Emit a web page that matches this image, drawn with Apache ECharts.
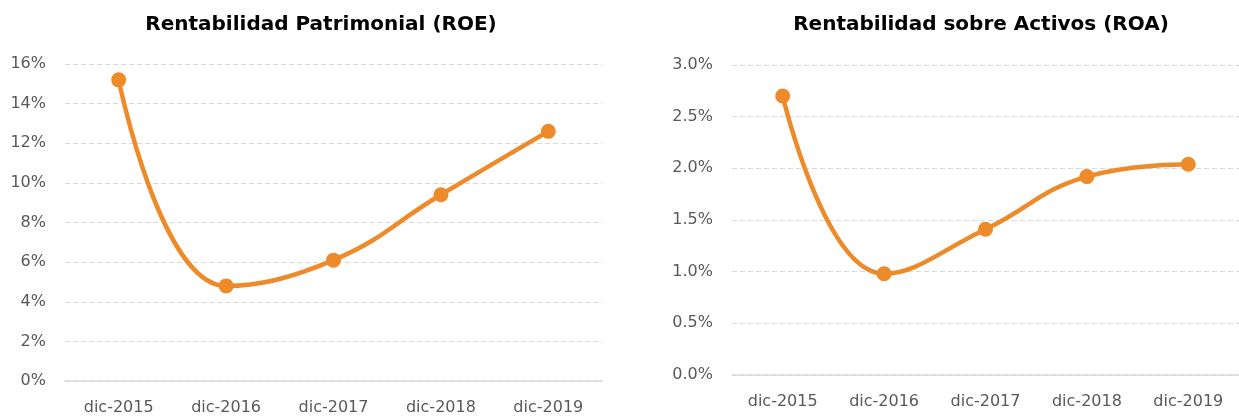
<!DOCTYPE html>
<html>
<head>
<meta charset="utf-8">
<script src="https://cdn.jsdelivr.net/npm/echarts@6/dist/echarts.min.js"></script>
<style>
	html, body { margin: 0; padding: 0; background: #fff; }
	#main { width: 1239px; height: 416px; }
</style>
</head>
<body>
<div id="main"></div>
<script>
	var periodos = ['dic-2015', 'dic-2016', 'dic-2017', 'dic-2018', 'dic-2019'];
	var roe = [15.2, 4.8, 6.1, 9.4, 12.6];
	var roa = [2.70, 0.98, 1.41, 1.92, 2.04];

	var naranja = '#ED8B2A';
	var gris = '#595959';
	var fuente = 'DejaVu Sans';

	function ejeX(idx) {
		return {
			type: 'category',
			gridIndex: idx,
			data: periodos,
			boundaryGap: true,
			axisTick: { show: false },
			axisLine: { lineStyle: { color: '#d9d9d9', width: 1.5 } },
			axisLabel: { color: gris, fontSize: 16, fontFamily: fuente, margin: 19 }
		};
	}

	function ejeY(idx, max, step, dec) {
		return {
			type: 'value',
			gridIndex: idx,
			min: 0,
			max: max,
			interval: step,
			axisLine: { show: false },
			axisTick: { show: false },
			splitLine: { lineStyle: { color: '#d9d9d9', type: [5, 3] } },
			axisLabel: {
				color: gris, fontSize: 16, fontFamily: fuente, margin: 19,
				formatter: function (v) { return v.toFixed(dec) + '%'; }
			}
		};
	}

	function serie(idx, datos) {
		return {
			type: 'line',
			xAxisIndex: idx,
			yAxisIndex: idx,
			data: datos,
			smooth: 0.45,
			symbol: 'circle',
			symbolSize: 15,
			lineStyle: { color: naranja, width: 4.5 },
			itemStyle: { color: naranja },
			animation: false
		};
	}

	var myChart = echarts.init(document.getElementById('main'));
	var option = {
		backgroundColor: '#fff',
		title: [
			{
				text: 'Rentabilidad Patrimonial (ROE)',
				left: 316, top: 10, textAlign: 'center',
				textStyle: { fontSize: 20, fontWeight: 'bold', color: '#000', fontFamily: fuente }
			},
			{
				text: 'Rentabilidad sobre Activos (ROA)',
				left: 976, top: 10, textAlign: 'center',
				textStyle: { fontSize: 20, fontWeight: 'bold', color: '#000', fontFamily: fuente }
			}
		],
		grid: [
			{ left: 65, top: 64, width: 537, height: 319 },
			{ left: 732, top: 65, width: 507, height: 310 }
		],
		xAxis: [ejeX(0), ejeX(1)],
		yAxis: [ejeY(0, 16, 2, 0), ejeY(1, 3, 0.5, 1)],
		series: [serie(0, roe), serie(1, roa)]
	};
	myChart.setOption(option);
</script>
</body>
</html>
